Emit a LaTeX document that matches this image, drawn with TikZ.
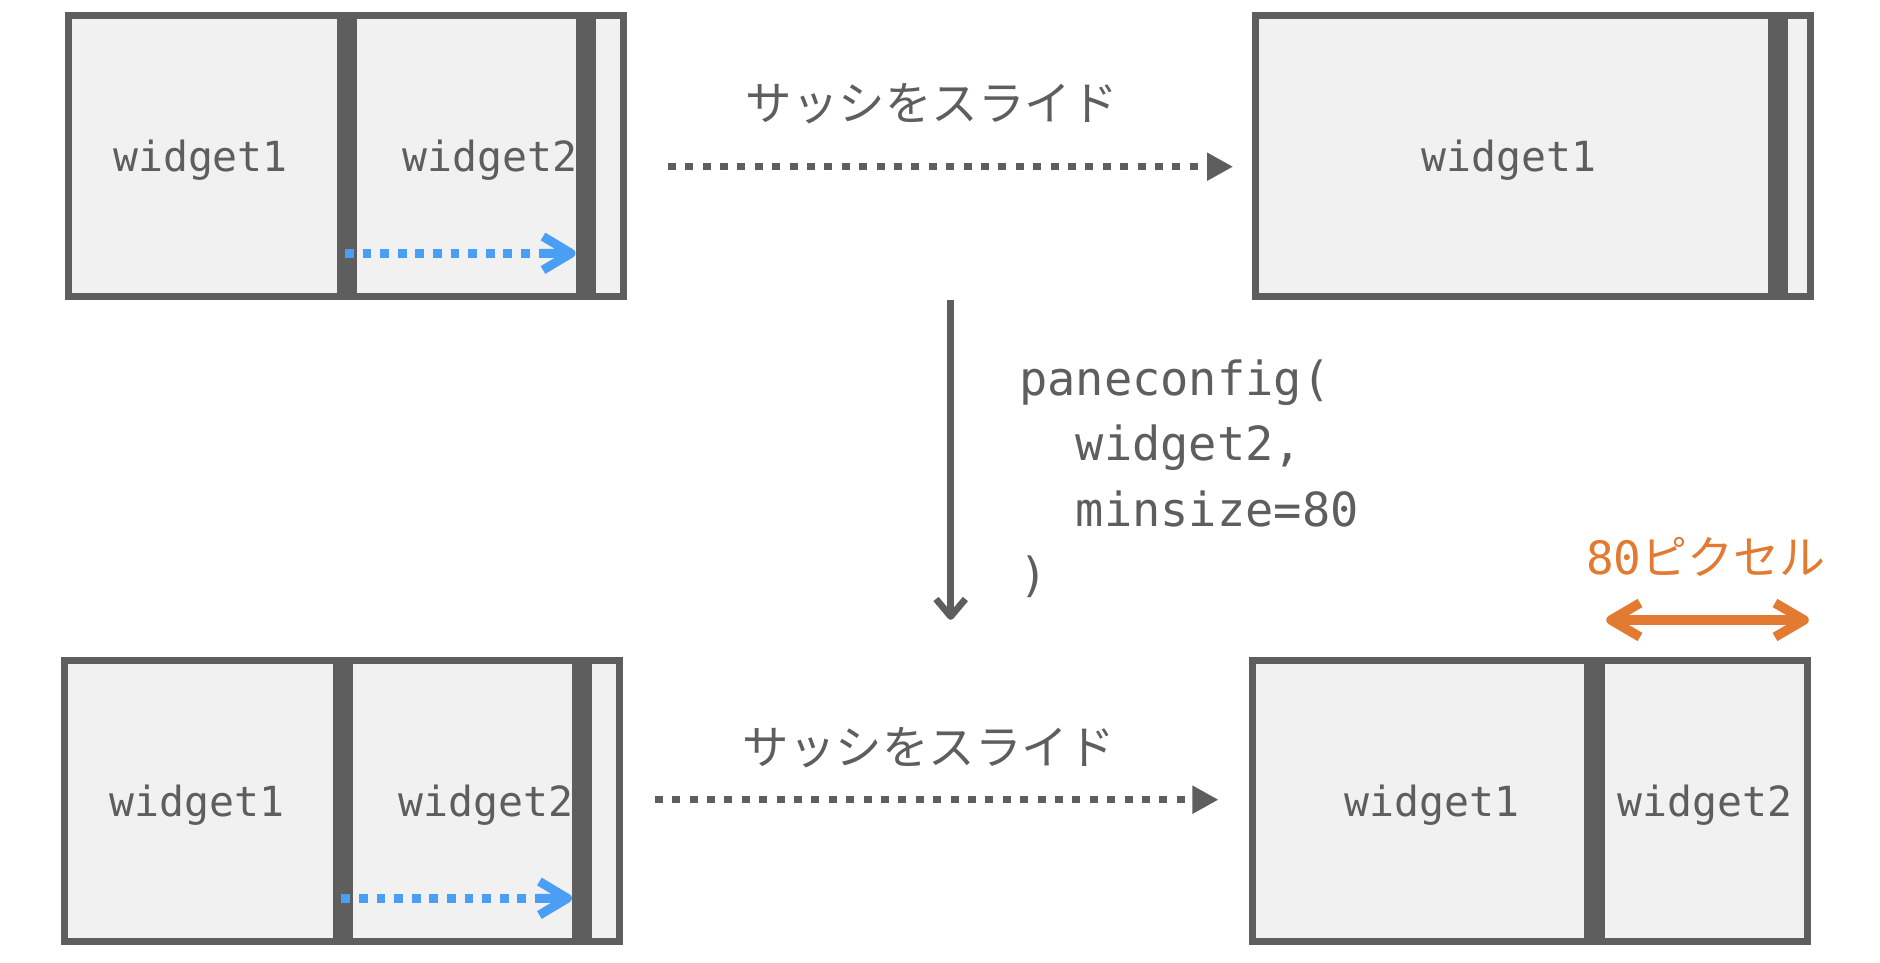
\documentclass[tikz,border=0pt]{standalone}
\usepackage{fontspec}
\newfontfamily\mono{DejaVu Sans Mono}
\newfontfamily\jp{Noto Sans CJK JP}
\definecolor{gc}{HTML}{5E5E5E}
\definecolor{fc}{HTML}{F1F1F1}
\definecolor{bc}{HTML}{4A9FF5}
\definecolor{oc}{HTML}{E27B31}
\begin{document}
\begin{tikzpicture}[x=1pt,y=-1pt,
  panelbox/.style={draw=gc, fill=fc, line width=7pt, minimum width=555pt, minimum height=281pt, anchor=north west, inner sep=0pt},
  sashbar/.style={fill=gc},
  wlabel/.style={text=gc, font=\mono\fontsize{41.5pt}{50pt}\selectfont, inner sep=0pt, anchor=base},
  codeline/.style={text=gc, font=\mono\fontsize{47pt}{60pt}\selectfont, inner sep=0pt, anchor=base west},
  jlabel/.style={text=gc, font=\jp\fontsize{46.5pt}{56pt}\selectfont, inner sep=0pt},
  blueflow/.style={draw=bc, line width=9pt, dash pattern=on 8.8pt off 8.8pt},
  bluehead/.style={draw=bc, line width=9pt, line join=round},
  grayflow/.style={draw=gc, line width=6.5pt, dash pattern=on 8pt off 9.4pt},
  grayhead/.style={fill=gc},
  graysolid/.style={draw=gc, line width=6.7pt, line join=round},
  orangeline/.style={draw=oc, line width=9.5pt, line join=round}
]
\useasboundingbox (0,0) rectangle (1880,962);

% ---- panel A (top left)
\node[panelbox] (A) at (65,12) {};
\fill[sashbar] (336.7,15.5) rectangle (356.7,296.5);
\fill[sashbar] (576,15.5) rectangle (596,296.5);
\node[wlabel] (A1) at (200.5,171.7) {widget1};
\node[wlabel] (A2) at (490,171.7) {widget2};
\coordinate (Aa) at (345,253.3);
\coordinate (Ab) at (571,253.3);
\draw[blueflow] (Aa) -- (Ab);
\draw[bluehead] (543,236.5) -- (Ab) -- (543,270) (540,253.3) -- (Ab);

% ---- panel B (top right)
\node[panelbox] (B) at (1251.5,12) {};
\fill[sashbar] (1767.5,15.5) rectangle (1787.5,296.5);
\node[wlabel] (B1) at (1509,171.7) {widget1};

% ---- panel C (bottom left)
\node[panelbox] (C) at (61.4,657) {};
\fill[sashbar] (333.1,660.5) rectangle (353.1,941.5);
\fill[sashbar] (572.4,660.5) rectangle (592.4,941.5);
\node[wlabel] (C1) at (197,816.7) {widget1};
\node[wlabel] (C2) at (486.4,816.7) {widget2};
\coordinate (Ca) at (341.4,898.3);
\coordinate (Cb) at (567.4,898.3);
\draw[blueflow] (Ca) -- (Cb);
\draw[bluehead] (539.4,881.5) -- (Cb) -- (539.4,915) (536.4,898.3) -- (Cb);

% ---- panel D (bottom right)
\node[panelbox] (D) at (1249,657) {};
\fill[sashbar] (1584.3,660.5) rectangle (1605,941.5);
\node[wlabel] (D1) at (1432,816.7) {widget1};
\node[wlabel] (D2) at (1705,816.7) {widget2};

% ---- top flow arrow
\node[jlabel] (S1) at (931.5,104) {サッシをスライド};
\coordinate (T1) at (667.8,166.7);
\coordinate (T2) at (1207,166.7);
\coordinate (T3) at (1232.6,166.7);
\draw[grayflow] (T1) -- (T2);
\fill[grayhead] (1207,152.4) -- (T3) -- (1207,181) -- cycle;

% ---- bottom flow arrow
\node[jlabel] (S2) at (928.5,747.6) {サッシをスライド};
\coordinate (U1) at (654.7,799.7);
\coordinate (U2) at (1192.4,799.7);
\coordinate (U3) at (1218,799.7);
\draw[grayflow] (U1) -- (U2);
\fill[grayhead] (1192.4,785.4) -- (U3) -- (1192.4,814) -- cycle;

% ---- vertical arrow
\coordinate (V1) at (950.7,300);
\coordinate (V2) at (950.7,616.5);
\draw[graysolid] (V1) -- (V2);
\draw[graysolid] (936,599) -- (V2) -- (965.4,599);

% ---- code
\node[codeline] (K1) at (1019,395) {paneconfig(};
\node[codeline] (K2) at (1019,460.5) {\hphantom{xx}widget2,};
\node[codeline] (K3) at (1019,526) {\hphantom{xx}minsize=80};
\node[codeline] (K4) at (1019,591.5) {)};

% ---- 80 pixel marker
\node[text=oc, inner sep=0pt, anchor=base west] (P) at (1586,574)
  {{\mono\fontsize{46pt}{50pt}\selectfont 80}{\jp\fontsize{46pt}{50pt}\selectfont ピクセル}};
\coordinate (O1) at (1611,620);
\coordinate (O2) at (1804,620);
\draw[orangeline] (O1) -- (O2);
\draw[orangeline] (1640,603) -- (O1) -- (1640,637);
\draw[orangeline] (1775,603) -- (O2) -- (1775,637);
\end{tikzpicture}
\end{document}
